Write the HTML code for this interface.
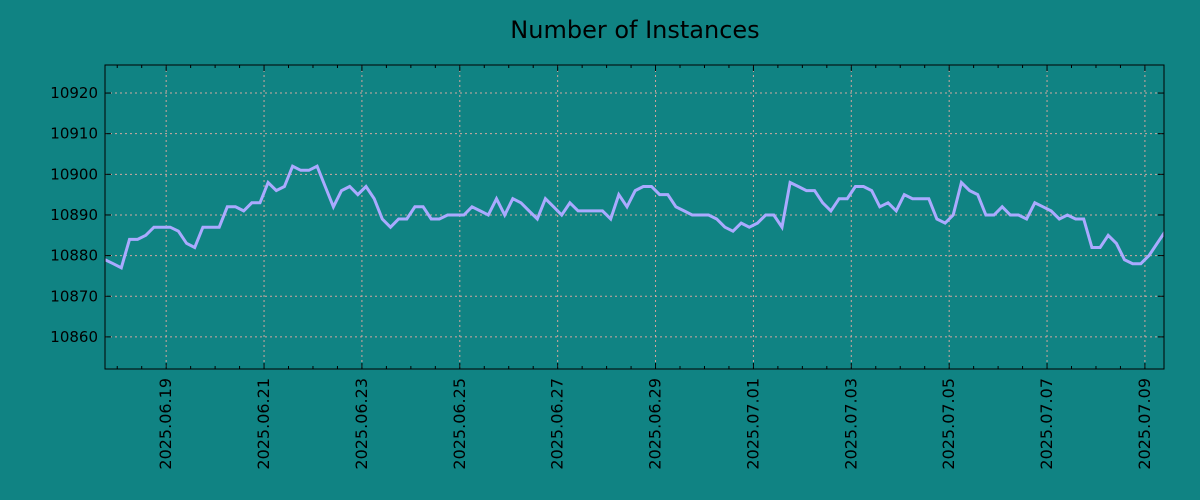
<!DOCTYPE html>
<html><head><meta charset="utf-8"><style>
body{margin:0;background:#108383;}
svg{display:block;font-family:"DejaVu Sans","Liberation Sans",sans-serif;}
</style></head><body>
<svg id="chart" width="1200" height="500" xmlns="http://www.w3.org/2000/svg">
<rect width="1200" height="500" fill="#108383"/>
<text x="635" y="38" font-size="24" text-anchor="middle" fill="#000">Number of Instances</text>
<g id="grid"></g><g id="series"></g><g id="axes"></g>
</svg>
<script>
const startDay = -1.25; // days relative to 2025.06.19, step 4h
const values = [10879,10878,10877,10884,10884,10885,10887,10887,10887,10886,10883,10882,10887,10887,10887,10892,10892,10891,10893,10893,10898,10896,10897,10902,10901,10901,10902,10897,10892,10896,10897,10895,10897,10894,10889,10887,10889,10889,10892,10892,10889,10889,10890,10890,10890,10892,10891,10890,10894,10890,10894,10893,10891,10889,10894,10892,10890,10893,10891,10891,10891,10891,10889,10895,10892,10896,10897,10897,10895,10895,10892,10891,10890,10890,10890,10889,10887,10886,10888,10887,10888,10890,10890,10887,10898,10897,10896,10896,10893,10891,10894,10894,10897,10897,10896,10892,10893,10891,10895,10894,10894,10894,10889,10888,10890,10898,10896,10895,10890,10890,10892,10890,10890,10889,10893,10892,10891,10889,10890,10889,10889,10882,10882,10885,10883,10879,10878,10878,10880,10883,10886];
const yTicks = [10860,10870,10880,10890,10900,10910,10920];
const xTickLabels = ["2025.06.19","2025.06.21","2025.06.23","2025.06.25","2025.06.27","2025.06.29","2025.07.01","2025.07.03","2025.07.05","2025.07.07","2025.07.09"];
const xTickDays = [0,2,4,6,8,10,12,14,16,18,20];

const L=105,R=1164,T=65,B=369;
const xMin=-1.25,xMax=20.39,yMin=10852.1,yMax=10926.9;
const X=d=>L+(d-xMin)/(xMax-xMin)*(R-L);
const Y=v=>B-(v-yMin)/(yMax-yMin)*(B-T);
const NS="http://www.w3.org/2000/svg";
function mk(tag,attrs,parent){const e=document.createElementNS(NS,tag);for(const k in attrs)e.setAttribute(k,attrs[k]);parent.appendChild(e);return e;}
const grid=document.getElementById('grid'),series=document.getElementById('series'),axes=document.getElementById('axes');
const gc="#d0a8a0";
yTicks.forEach(v=>{const y=Y(v);
 const g=mk('line',{x1:L,x2:R,y1:y,y2:y,stroke:gc,'stroke-width':1,'stroke-dasharray':'2,3'},grid);
 
 mk('line',{x1:L,x2:L+6,y1:y,y2:y,stroke:'#000'},axes);
 mk('line',{x1:R,x2:R-6,y1:y,y2:y,stroke:'#000'},axes);
 const t=mk('text',{x:L-7,y:y+5,'font-size':15,'text-anchor':'end',fill:'#000'},axes);
 t.textContent=v;
});
for(let d=-1;d<=20.39;d+=0.5){const x=X(d);if(x<L||x>R)continue;
 const major=xTickDays.includes(d);const len=major?6:3;
 mk('line',{x1:x,x2:x,y1:B,y2:B-len,stroke:'#000'},axes);
 mk('line',{x1:x,x2:x,y1:T,y2:T+len,stroke:'#000'},axes);}
xTickDays.forEach((d,i)=>{const x=X(d);
 const g=mk('line',{x1:x,x2:x,y1:T,y2:B,stroke:gc,'stroke-width':1,'stroke-dasharray':'2,3'},grid);
 
 const t=mk('text',{x:0,y:0,'font-size':16,'text-anchor':'end',fill:'#000',transform:`translate(${x+5},${B+9}) rotate(-90)`},axes);
 t.textContent=xTickLabels[i];
});
const pts=values.map((v,i)=>X(startDay+i/6).toFixed(1)+','+Y(v).toFixed(1)).join(' ');
const cp=mk('clipPath',{id:'clip'},series);
mk('rect',{x:L,y:T,width:R-L,height:B-T},cp);
const line=mk('polyline',{points:pts,fill:'none',stroke:'#aaaaff','stroke-width':3,'stroke-linejoin':'miter','clip-path':'url(#clip)'},series);


const frame=mk('rect',{x:L,y:T,width:R-L,height:B-T,fill:'none',stroke:'#000','stroke-width':1},axes);


</script>
</body></html>
